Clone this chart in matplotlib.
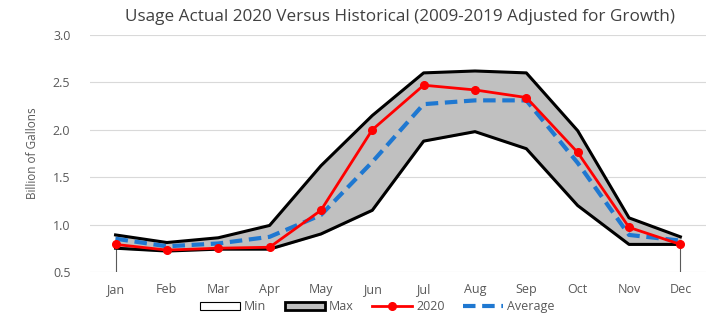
import matplotlib
matplotlib.use('Agg')
from matplotlib import pyplot as plt
from matplotlib.patches import Patch
from matplotlib.lines import Line2D

months = ['Jan', 'Feb', 'Mar', 'Apr', 'May', 'Jun', 'Jul', 'Aug', 'Sep', 'Oct', 'Nov', 'Dec']
min_vals = [0.75, 0.72, 0.74, 0.74, 0.90, 1.15, 1.88, 1.98, 1.80, 1.20, 0.79, 0.79]
max_vals = [0.89, 0.81, 0.86, 0.99, 1.62, 2.15, 2.60, 2.62, 2.60, 1.99, 1.07, 0.87]
usage_2020 = [0.79, 0.73, 0.75, 0.76, 1.15, 2.00, 2.47, 2.42, 2.34, 1.76, 0.97, 0.79]
average = [0.85, 0.77, 0.80, 0.87, 1.10, 1.66, 2.27, 2.31, 2.31, 1.65, 0.89, 0.83]

plt.rcParams['font.family'] = ['Open Sans', 'DejaVu Sans']
text_color = '#595959'

fig = plt.figure(figsize=(7.19, 3.18), dpi=100)
ax = fig.add_axes([0.125, 0.145, 0.857, 0.745])

x = list(range(len(months)))

# 灰色区间
ax.fill_between(x, min_vals, max_vals, color='#C0C0C0', zorder=2)
ax.plot(x, max_vals, color='black', lw=2.2, zorder=3)
ax.plot(x, min_vals, color='black', lw=2.2, zorder=3)

# 两端的垂线
ax.vlines([x[0], x[-1]], 0.5, [min_vals[0], min_vals[-1]], color='#595959', lw=0.8, zorder=1)

ax.plot(x, average, color='#1F78D1', lw=3, ls=(0, (3, 1.6)), zorder=4)
ax.plot(x, usage_2020, color='#FF0000', lw=2, marker='o', ms=5.5, zorder=5)

ax.set_xlim(-0.5, 11.5)
ax.set_ylim(0.5, 3.0)
ax.set_yticks([0.5, 1.0, 1.5, 2.0, 2.5, 3.0])
ax.set_yticklabels(['0.5', '1.0', '1.5', '2.0', '2.5', '3.0'])
ax.set_xticks(x)
ax.set_xticklabels(months)
ax.grid(axis='y', color='#D9D9D9', lw=0.8, zorder=0)
ax.set_axisbelow(True)
for s in ax.spines.values():
    s.set_visible(False)
ax.tick_params(length=0, labelsize=9, colors=text_color, pad=8)
ax.tick_params(axis='y', pad=14)

ax.set_ylabel('Billion of Gallons', fontsize=8.5, color=text_color, labelpad=10)
fig.text(0.556, 0.945, 'Usage Actual 2020 Versus Historical (2009-2019 Adjusted for Growth)',
         ha='center', va='center', fontsize=12.3, color='#404040')

handles = [
    Patch(facecolor='white', edgecolor='black', lw=0.8, label='Min'),
    Patch(facecolor='#C0C0C0', edgecolor='black', lw=2, label='Max'),
    Line2D([], [], color='#FF0000', lw=2, marker='o', ms=5.5, label='2020'),
    Line2D([], [], color='#1F78D1', lw=3, ls=(0, (3, 1.6)), label='Average'),
]
fig.legend(handles=handles, loc='center', bbox_to_anchor=(0.525, 0.035), ncol=4,
           frameon=False, fontsize=9, labelcolor=text_color, handlelength=3.2,
           handletextpad=0.3, columnspacing=1.5)

plt.savefig('out.png', dpi=100)
